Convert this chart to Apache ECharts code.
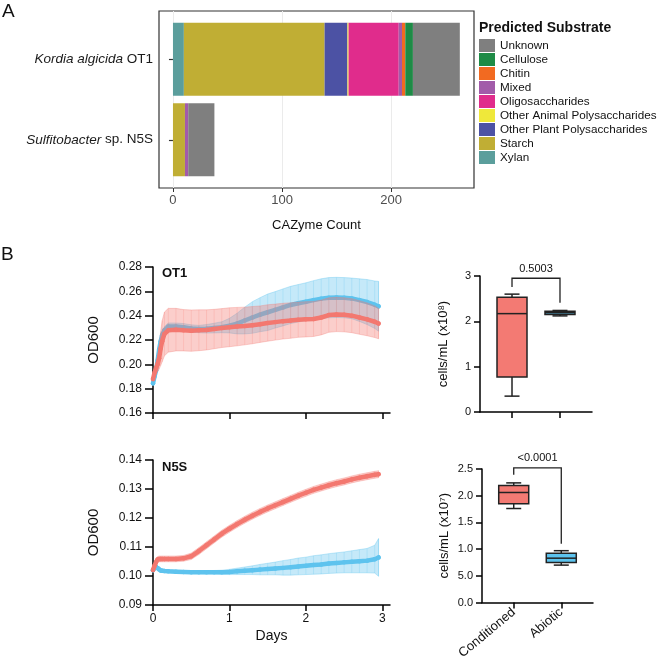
<!DOCTYPE html>
<html><head><meta charset="utf-8">
<script src="https://cdn.jsdelivr.net/npm/echarts@6/dist/echarts.min.js"></script>
<style>html,body{margin:0;padding:0;background:#fff}#c{width:658px;height:662px}</style>
</head><body><div id="c"></div>
<script>
// ---------- Panel A data ----------
const strains = ['Kordia algicida OT1', 'Sulfitobacter sp. N5S'];
const strainItalic = ['Kordia algicida', 'Sulfitobacter'];
const strainPlain = ['OT1', 'sp. N5S'];
const substrates = ['Xylan','Starch','Other Plant Polysaccharides','Other Animal Polysaccharides','Oligosaccharides','Mixed','Chitin','Cellulose','Unknown'];
const substrateColors = ['#5B9E9C','#C0AE34','#4C52A4','#EFE83A','#E02C8C','#A25BA9','#F26A21','#1E8B46','#7F7F7F'];
const countsOT1 = [10,129,21,1,46,3,3,7,43];
const countsN5S = [0,11,0,0,0,3,0,0,24];
const xTicksA = [0,100,200];

// ---------- Panel B growth curves ----------
const days = [0,0.02,0.04,0.06,0.08,0.1,0.12,0.15,0.2,0.3,0.4,0.5,0.6,0.7,0.8,0.9,1.0,1.1,1.2,1.3,1.4,1.5,1.6,1.7,1.8,1.9,2.0,2.1,2.2,2.3,2.4,2.5,2.6,2.7,2.8,2.9,2.95];
const dayTicks = [0,1,2,3];

const ot1CondMean = [0.188,0.193,0.197,0.200,0.205,0.213,0.219,0.225,0.228,0.2285,0.228,0.2277,0.228,0.2283,0.229,0.2298,0.2305,0.231,0.2315,0.2322,0.233,0.234,0.2347,0.2355,0.236,0.2367,0.237,0.2373,0.2385,0.2405,0.241,0.2407,0.240,0.2385,0.237,0.235,0.2335];
const ot1CondSD = [0.002,0.004,0.005,0.006,0.009,0.014,0.017,0.018,0.018,0.0175,0.017,0.017,0.0168,0.0165,0.0162,0.016,0.016,0.0158,0.0155,0.0153,0.015,0.015,0.0148,0.0147,0.0146,0.0145,0.0145,0.0144,0.0143,0.0142,0.0141,0.014,0.014,0.0138,0.0135,0.013,0.0125];
const ot1AbioMean = [0.1845,0.190,0.195,0.203,0.212,0.219,0.224,0.228,0.231,0.231,0.2305,0.2295,0.229,0.2292,0.2298,0.2305,0.2318,0.2335,0.236,0.2385,0.2408,0.2428,0.2448,0.2468,0.2488,0.2502,0.2515,0.2528,0.2540,0.2548,0.2550,0.2548,0.2542,0.2528,0.2512,0.2490,0.2477];
const ot1AbioSD = [0.002,0.003,0.003,0.004,0.004,0.004,0.003,0.003,0.003,0.003,0.003,0.003,0.003,0.0035,0.004,0.0045,0.006,0.0085,0.011,0.013,0.014,0.015,0.015,0.0152,0.0153,0.0154,0.0155,0.016,0.0163,0.0165,0.0165,0.0165,0.0167,0.0175,0.0185,0.0195,0.0205];

const n5sCondMean = [0.1021,0.1035,0.1048,0.1057,0.1059,0.1059,0.1059,0.1059,0.1059,0.1059,0.1061,0.1068,0.1086,0.1106,0.1126,0.1146,0.1163,0.1179,0.1194,0.1208,0.1221,0.1233,0.1244,0.1255,0.1266,0.1277,0.1287,0.1297,0.1305,0.1313,0.1320,0.1326,0.1333,0.1339,0.1344,0.1349,0.1351];
const n5sCondSD = [0.0005,0.0008,0.0010,0.0010,0.0010,0.0010,0.0010,0.0010,0.0010,0.0010,0.0010,0.0011,0.0012,0.0012,0.0012,0.0012,0.0012,0.0012,0.0012,0.0012,0.0012,0.0012,0.0012,0.0012,0.0012,0.0012,0.0012,0.0012,0.0012,0.0012,0.0012,0.0012,0.0012,0.0012,0.0012,0.0012,0.0012];
const n5sAbioMean = [0.1020,0.1028,0.1033,0.1028,0.1022,0.1019,0.1018,0.1017,0.1016,0.1015,0.1014,0.1013,0.1013,0.1013,0.1013,0.1013,0.1014,0.1016,0.1018,0.1020,0.1022,0.1024,0.1026,0.1028,0.1030,0.1033,0.1035,0.1038,0.1040,0.1043,0.1045,0.1047,0.1049,0.1051,0.1053,0.1058,0.1064];
const n5sAbioSD = [0.0004,0.0005,0.0005,0.0005,0.0005,0.0005,0.0005,0.0005,0.0005,0.0005,0.0005,0.0005,0.0005,0.0006,0.0006,0.0007,0.0009,0.0011,0.0013,0.0015,0.0018,0.002,0.0022,0.0025,0.0027,0.0029,0.003,0.0032,0.0033,0.0034,0.0035,0.0036,0.0038,0.004,0.0042,0.0048,0.0065];

// ---------- Panel B box plots: [min, Q1, median, Q3, max] ----------
const boxGroups = ['Conditioned','Abiotic'];
const ot1Boxes = [[0.35,0.77,2.17,2.53,2.60],[2.12,2.15,2.19,2.22,2.24]];
const n5sBoxes = [[1.76,1.85,2.06,2.19,2.24],[0.70,0.75,0.83,0.92,0.97]];
// bracket: [x1, x2, yLeftEnd, yTop, yRightEnd]
const ot1Bracket = [1,2,2.76,2.95,2.41];
const n5sBracket = [1,2,2.39,2.52,1.10];
const ot1P = '0.5003';
const n5sP = '<0.0001';

// ---------- styling ----------
const FONT = 'Liberation Sans, Arial, Helvetica, sans-serif';
const RED = '#F37870', BLUE = '#5EC3EE';
const RED_BAND = 'rgba(243,120,112,0.36)', BLUE_BAND = 'rgba(94,195,238,0.36)';
const boxColors = ['#F37A73', '#5CC3EE'];
const AX = {color:'#000', width:1.5};

function bandSeries(xi, yi, mean, sd, fill, stroke, z) {
  return {
    type:'custom', xAxisIndex:xi, yAxisIndex:yi, z:z, silent:true, clip:false,
    data: days.map((d,i)=>[d, mean[i]-sd[i], mean[i]+sd[i]]),
    encode:{x:0, y:[1,2]},
    renderItem: function(params, api){
      const children = [];
      if (params.dataIndex === 0) {
        const pts = [];
        for (let i=0;i<days.length;i++) pts.push(api.coord([days[i], mean[i]+sd[i]]));
        for (let i=days.length-1;i>=0;i--) pts.push(api.coord([days[i], mean[i]-sd[i]]));
        children.push({type:'polygon', shape:{points:pts}, style:{fill:fill, stroke:stroke, lineWidth:0.9}});
      }
      const lo = api.coord([api.value(0), api.value(1)]);
      const hi = api.coord([api.value(0), api.value(2)]);
      children.push({type:'line', shape:{x1:lo[0],y1:lo[1],x2:hi[0],y2:hi[1]}, style:{stroke:stroke, lineWidth:0.6}});
      return {type:'group', children:children};
    }
  };
}
function lineSeries(xi, yi, mean, color, z) {
  return {type:'line', xAxisIndex:xi, yAxisIndex:yi, z:z, silent:true,
    data: days.map((d,i)=>[d, mean[i]]), symbol:'circle', symbolSize:4.5, showSymbol:true,
    lineStyle:{color:color, width:4.5, cap:'round', join:'round'}, itemStyle:{color:color}};
}
function boxSeries(xi, yi, boxes) {
  return {type:'custom', xAxisIndex:xi, yAxisIndex:yi, z:5, silent:true,
    data: boxes.map((b,i)=>[i+1].concat(b)),
    encode:{x:0, y:[1,2,3,4,5]},
    renderItem: function(params, api){
      const x = api.value(0);
      const p = k => api.coord([x, api.value(k)]);
      const mn=p(1), q1=p(2), md=p(3), q3=p(4), mx=p(5);
      const hw = 15, cw = 7.5, ls = {stroke:'#222', lineWidth:1.5};
      return {type:'group', children:[
        {type:'line', shape:{x1:mn[0],y1:mn[1],x2:q1[0],y2:q1[1]}, style:ls},
        {type:'line', shape:{x1:q3[0],y1:q3[1],x2:mx[0],y2:mx[1]}, style:ls},
        {type:'line', shape:{x1:mn[0]-cw,y1:mn[1],x2:mn[0]+cw,y2:mn[1]}, style:ls},
        {type:'line', shape:{x1:mx[0]-cw,y1:mx[1],x2:mx[0]+cw,y2:mx[1]}, style:ls},
        {type:'rect', shape:{x:q1[0]-hw, y:q3[1], width:2*hw, height:q1[1]-q3[1]}, style:{fill:boxColors[params.dataIndex], stroke:'#222', lineWidth:1.5}},
        {type:'line', shape:{x1:md[0]-hw,y1:md[1],x2:md[0]+hw,y2:md[1]}, style:ls}
      ]};
    }
  };
}
function bracketSeries(xi, yi, br, label) {
  return {type:'custom', xAxisIndex:xi, yAxisIndex:yi, z:6, silent:true, clip:false,
    data:[br], encode:{x:[0,1], y:[2,3,4]},
    renderItem: function(params, api){
      const a = api.coord([api.value(0), api.value(2)]);
      const b = api.coord([api.value(0), api.value(3)]);
      const c = api.coord([api.value(1), api.value(3)]);
      const d = api.coord([api.value(1), api.value(4)]);
      return {type:'group', children:[
        {type:'polyline', shape:{points:[a,b,c,d]}, style:{stroke:'#222', lineWidth:1.3, fill:null}},
        {type:'text', x:(b[0]+c[0])/2, y:b[1]-4, style:{text:label, align:'center', verticalAlign:'bottom', font:'11px ' + FONT, fill:'#111'}}
      ]};
    }
  };
}

const series = [];
substrates.forEach((s,i)=>{
  series.push({type:'bar', name:s, stack:'cazy', xAxisIndex:1, yAxisIndex:1, barWidth:73,
    data:[countsOT1[i], countsN5S[i]], itemStyle:{color:substrateColors[i]}, silent:true});
});
series.push(bandSeries(2,2,ot1AbioMean,ot1AbioSD,BLUE_BAND,'rgba(94,195,238,0.4)',1));
series.push(lineSeries(2,2,ot1AbioMean,BLUE,2));
series.push(bandSeries(2,2,ot1CondMean,ot1CondSD,RED_BAND,'rgba(243,120,112,0.35)',3));
series.push(lineSeries(2,2,ot1CondMean,RED,4));
series.push(bandSeries(3,3,n5sAbioMean,n5sAbioSD,BLUE_BAND,'rgba(94,195,238,0.4)',1));
series.push(lineSeries(3,3,n5sAbioMean,BLUE,2));
series.push(bandSeries(3,3,n5sCondMean,n5sCondSD,RED_BAND,'rgba(243,120,112,0.35)',3));
series.push(lineSeries(3,3,n5sCondMean,RED,4));
series.push(boxSeries(4,4,ot1Boxes));
series.push(boxSeries(5,5,n5sBoxes));
series.push(bracketSeries(4,4,ot1Bracket,ot1P));
series.push(bracketSeries(5,5,n5sBracket,n5sP));

function lineX(grid, showLabels) {
  return {gridIndex:grid, type:'value', min:0, max:3.1,
    axisLine:{show:true, onZero:false, lineStyle:AX},
    axisTick:{show:true, customValues:dayTicks, length:6, lineStyle:AX},
    axisLabel:{show:showLabels, customValues:dayTicks, fontSize:12, color:'#111', margin:8, fontFamily:FONT},
    splitLine:{show:false},
    name: showLabels ? 'Days' : '', nameLocation:'middle', nameGap:24,
    nameTextStyle:{fontSize:14, color:'#111', fontFamily:FONT}};
}
function lineY(grid, min, max, interval) {
  return {gridIndex:grid, type:'value', min:min, max:max, interval:interval,
    axisLine:{show:true, onZero:false, lineStyle:AX},
    axisTick:{show:true, length:8, lineStyle:AX},
    axisLabel:{fontSize:12, color:'#111', margin:11, fontFamily:FONT, formatter:v=>v.toFixed(2)},
    splitLine:{show:false},
    name:'OD600', nameLocation:'middle', nameGap:52,
    nameTextStyle:{fontSize:15, color:'#111', fontFamily:FONT}};
}
function boxX(grid, showLabels) {
  return {gridIndex:grid, type:'value', min:0.333, max:2.667,
    axisLine:{show:true, onZero:false, lineStyle:AX},
    axisTick:{show:true, customValues:[1,2], length:6, lineStyle:AX},
    axisLabel:{show:showLabels, customValues:[1,2], rotate:40, fontSize:13, color:'#111', margin:8, fontFamily:FONT,
      formatter:v=>boxGroups[Math.round(v)-1]},
    splitLine:{show:false}};
}
function boxY(grid, max, interval, name, gap, fmt) {
  return {gridIndex:grid, type:'value', min:0, max:max, interval:interval,
    axisLine:{show:true, onZero:false, lineStyle:AX},
    axisTick:{show:true, length:6, lineStyle:AX},
    axisLabel:{fontSize:11, color:'#111', margin:9, fontFamily:FONT, formatter:fmt},
    splitLine:{show:false},
    name:name, nameLocation:'middle', nameGap:gap,
    nameTextStyle:{fontSize:13, color:'#111', fontFamily:FONT}};
}

const option = {
  animation:false,
  textStyle:{fontFamily:FONT},
  grid:[
    {left:159, top:11, width:315, height:177, show:true, borderColor:'#333', borderWidth:1.2, backgroundColor:'transparent'},
    {left:159, top:19, width:315, height:161},
    {left:153, top:267, width:237, height:146},
    {left:153, top:460, width:237, height:145},
    {left:480, top:276, width:112, height:136},
    {left:482, top:469, width:111, height:136}
  ],
  xAxis:[
    {gridIndex:0, type:'value', min:-12.8, max:276,
      axisLine:{show:false},
      axisTick:{show:true, customValues:xTicksA, length:4, lineStyle:{color:'#333', width:1}},
      axisLabel:{customValues:xTicksA, color:'#4D4D4D', fontSize:13, margin:6, fontFamily:FONT},
      splitLine:{show:true, lineStyle:{color:'#EBEBEB', width:1}},
      name:'CAZyme Count', nameLocation:'middle', nameGap:31,
      nameTextStyle:{fontSize:13, color:'#111', fontFamily:FONT}},
    {gridIndex:1, type:'value', min:-12.8, max:276, show:false},
    lineX(2,false), lineX(3,true), boxX(4,false), boxX(5,true)
  ],
  yAxis:[
    {gridIndex:0, type:'value', min:0, max:1, show:false},
    {gridIndex:1, type:'category', inverse:true, data:strains,
      axisLine:{show:false},
      axisTick:{show:true, alignWithLabel:true, length:4, lineStyle:{color:'#333', width:1.2}},
      axisLabel:{margin:6, fontSize:13.5, color:'#1a1a1a', fontFamily:FONT,
        formatter:(v,i)=>'{i|' + strainItalic[i] + '} ' + strainPlain[i],
        rich:{i:{fontStyle:'italic', fontSize:13.5, color:'#1a1a1a', fontFamily:FONT}}}},
    lineY(2,0.16,0.28,0.02), lineY(3,0.09,0.14,0.01),
    boxY(4,3,1,'cells/mL (x10\u2078)',30,v=>String(v)),
    boxY(5,2.5,0.5,'cells/mL (x10\u2077)',31,v=>(Math.abs(v-0.5)<1e-9 ? '5.0' : v.toFixed(1)))
  ],
  legend:{orient:'vertical', left:474, top:34, itemWidth:16, itemHeight:13, itemGap:1, icon:'rect',
    selectedMode:false, data:substrates.slice().reverse(),
    textStyle:{fontSize:11.7, color:'#111', fontFamily:FONT}},
  graphic:[
    {type:'text', left:2, top:2, style:{text:'A', font:'19px ' + FONT, fill:'#111'}},
    {type:'text', left:1, top:245, style:{text:'B', font:'19px ' + FONT, fill:'#111'}},
    {type:'text', left:479, top:21, style:{text:'Predicted Substrate', font:'bold 14px ' + FONT, fill:'#111'}},
    {type:'text', left:162, top:267, style:{text:'OT1', font:'bold 13px ' + FONT, fill:'#111'}},
    {type:'text', left:162, top:461, style:{text:'N5S', font:'bold 13px ' + FONT, fill:'#111'}}
  ],
  series:series
};
const chart = echarts.init(document.getElementById('c'), null, {renderer:'canvas'});
chart.setOption(option);
</script></body></html>
